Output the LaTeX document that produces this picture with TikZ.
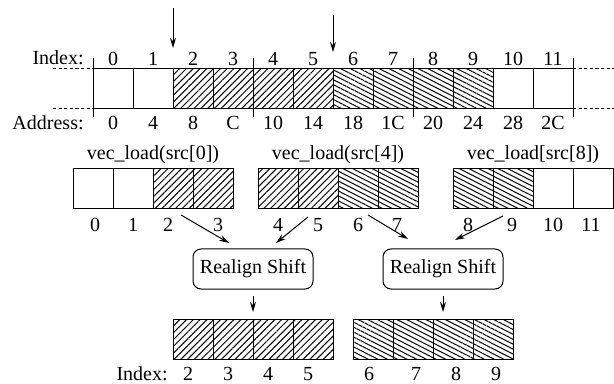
\documentclass[tikz,border=0pt]{standalone}
\usepackage{fontspec}
\setmainfont{Liberation Serif}
\usetikzlibrary{patterns.meta,arrows.meta}
\begin{document}
\begin{tikzpicture}[x=0.5pt,y=-0.5pt,
  cellbox/.style={draw,line width=0.5pt,minimum width=20pt,minimum height=20pt,inner sep=0pt,outer sep=0pt},
  hatchA/.style={cellbox,pattern={Lines[angle=45,distance=2.4pt,line width=0.5pt]}},
  hatchB/.style={cellbox,pattern={Lines[angle=-27,distance=2.2pt,line width=0.5pt]}},
  lbl/.style={font=\fontsize{10}{12}\selectfont,inner sep=0pt},
  shiftbox/.style={draw,line width=0.5pt,rounded corners=4pt,minimum width=60pt,minimum height=20pt,inner sep=0pt,font=\fontsize{10}{12}\selectfont},
  arr/.style={-{Stealth[length=5pt,width=3pt]},line width=0.5pt},
  sep/.style={line width=0.5pt},
  dashline/.style={dashed,dash pattern=on 1.6pt off 1.2pt,line width=0.5pt}
]
\useasboundingbox (0,0) rectangle (614,384);

% ---------- top memory row ----------
\foreach \i/\s in {0/cellbox,1/cellbox,2/hatchA,3/hatchA,4/hatchA,5/hatchA,6/hatchB,7/hatchB,8/hatchB,9/hatchB,10/cellbox,11/cellbox}{
  \node[\s] (t\i) at (113+40*\i,89) {};
  \node[lbl] (ti\i) at (113+40*\i,59) {\i};
}
\foreach \i/\a in {0/0,1/4,2/8,3/C,4/10,5/14,6/18,7/1C,8/20,9/24,10/28,11/2C}{
  \node[lbl] (ta\i) at (113+40*\i,123) {\a};
}
\node[lbl,anchor=east] (tidx) at (84,58) {Index:};
\node[lbl,anchor=east] (tadr) at (84,123) {Address:};

\foreach \x in {93,253,413,573}{
  \draw[sep] (\x,58) -- (\x,117);
}
\coordinate (dl1) at (53,69);
\coordinate (dl2) at (53,109);
\coordinate (dr1) at (614,69);
\coordinate (dr2) at (614,109);
\draw[dashline] (dl1) -- (t0.north west);
\draw[dashline] (dl2) -- (t0.south west);
\draw[dashline] (t11.north east) -- (dr1);
\draw[dashline] (t11.south east) -- (dr2);

\coordinate (m1s) at (173,8);
\coordinate (m1e) at (173,48);
\coordinate (m2s) at (333,15);
\coordinate (m2e) at (333,52);
\draw[arr] (m1s) -- (m1e);
\draw[arr] (m2s) -- (m2e);

% ---------- vec_load row ----------
\foreach \i/\s/\x/\lx in {0/cellbox/93/95,1/cellbox/133/133,2/hatchA/173/168,3/hatchA/213/218,
                      4/hatchA/278/278,5/hatchA/318/318,6/hatchB/358/358,7/hatchB/398/397,
                      8/hatchB/473/468,9/hatchB/513/512,10/cellbox/553/553,11/cellbox/593/591}{
  \node[\s] (v\i) at (\x,189) {};
  \node[lbl] (vi\i) at (\lx,225) {\i};
}
\node[lbl] (vl0) at (153,155) {vec\_load(src[0])};
\node[lbl] (vl4) at (338,155) {vec\_load(src[4])};
\node[lbl] (vl8) at (533,155) {vec\_load[src[8])};

% ---------- realign ----------
\node[shiftbox] (rs1) at (253,269) {Realign Shift};
\node[shiftbox] (rs2) at (443,269) {Realign Shift};

\coordinate (a2s) at (181,215);
\coordinate (a2e) at (229,243);
\coordinate (a5s) at (308,217);
\coordinate (a5e) at (276,243);
\coordinate (a6s) at (368,215);
\coordinate (a6e) at (408,239);
\coordinate (a9s) at (503,216);
\coordinate (a9e) at (455,240);
\draw[arr] (a2s) -- (a2e);
\draw[arr] (a5s) -- (a5e);
\draw[arr] (a6s) -- (a6e);
\draw[arr] (a9s) -- (a9e);

% ---------- result row ----------
\foreach \i/\s/\x/\lx in {2/hatchA/193/188,3/hatchA/233/228,4/hatchA/273/268,5/hatchA/313/308,
                      6/hatchB/373/369,7/hatchB/413/416,8/hatchB/453/456,9/hatchB/493/496}{
  \node[\s] (b\i) at (\x,339) {};
  \node[lbl] (bi\i) at (\lx,374) {\i};
}
\node[lbl,anchor=east] (bidx) at (168,374) {Index:};

\coordinate (d1e) at (253,312);
\coordinate (d2e) at (443,312);
\draw[arr] (rs1.south) ++(0,6) coordinate (d1s) -- (d1e);
\draw[arr] (rs2.south) ++(0,6) coordinate (d2s) -- (d2e);
\end{tikzpicture}
\end{document}
